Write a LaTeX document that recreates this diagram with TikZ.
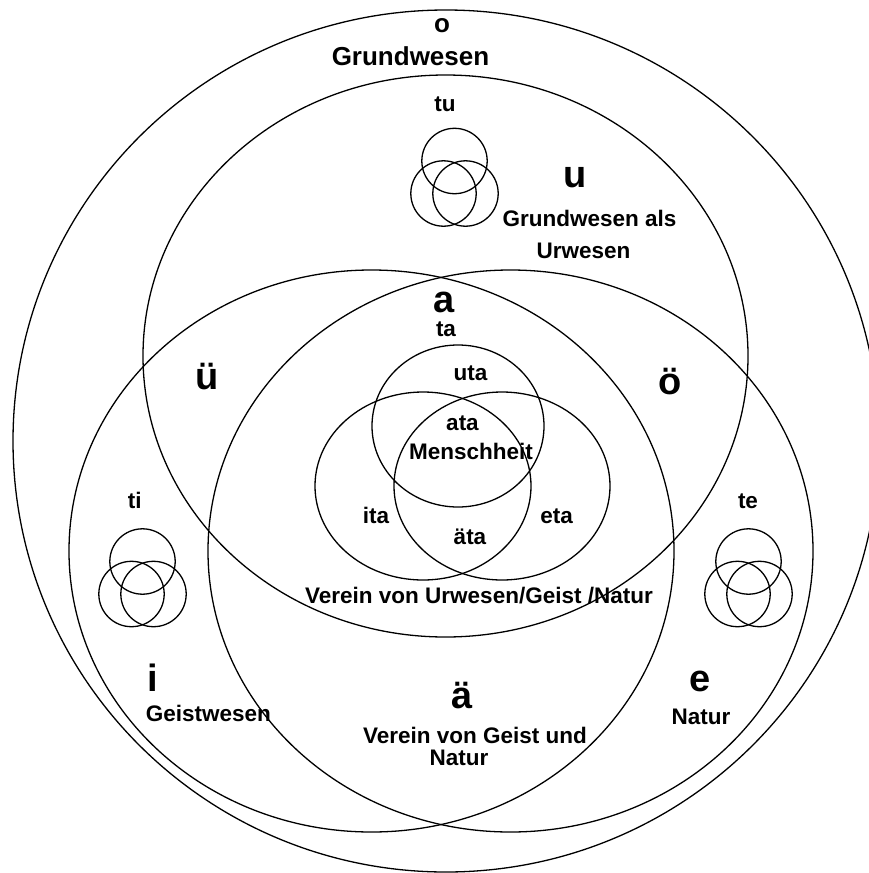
\documentclass[tikz,border=0pt]{standalone}
\usepackage{fontspec}
\setmainfont{Liberation Sans}
\newcommand\fsz[1]{\fontsize{#1}{#1}\selectfont\bfseries}
\tikzset{
  ring/.style={draw=black, line width=1.3pt},
  lbl/.style={anchor=base, inner sep=0pt, font=\fsz{22.5}},
  big/.style={anchor=base, inner sep=0pt, font=\fsz{38}},
  top/.style={anchor=base, inner sep=0pt, font=\fsz{26}},
}
\newcommand\triad[2]{%
  \draw[ring] (#1,#2) circle[radius=32.7pt];
  \draw[ring] ({#1-11},{#2+32.5}) circle[radius=32.7pt];
  \draw[ring] ({#1+11},{#2+32.5}) circle[radius=32.7pt];
}
\begin{document}
\begin{tikzpicture}[x=1pt,y=-1pt]
\useasboundingbox (0,0) rectangle (869,873);
\clip (0,0) rectangle (869,873);
% outer ellipse (o)
\draw[ring] (446,441) ellipse[x radius=433pt, y radius=431pt];
% three big ellipses u, i, e
\draw[ring] (445.5,356) ellipse[x radius=302.5pt, y radius=281pt];
\draw[ring] (371.5,551) ellipse[x radius=302.5pt, y radius=281pt];
\draw[ring] (510.5,551) ellipse[x radius=302.5pt, y radius=281pt];
% inner venn
\draw[ring] (458,426) ellipse[x radius=86pt, y radius=81pt];
\draw[ring] (423,486) ellipse[x radius=108pt, y radius=94pt];
\draw[ring] (502,486) ellipse[x radius=108pt, y radius=94pt];
% small triads
\triad{454.5}{161}
\triad{142.5}{561.5}
\triad{748.5}{561.5}
% labels
\node[top] (o) at (442,32) {o};
\node[top] (grund) at (410.5,65) {Grundwesen};
\node[lbl] (tu) at (445,111) {tu};
\node[big] (u) at (575.5,187) {u};
\node[lbl] (gals) at (589.5,226.7) {Grundwesen als};
\node[lbl] (urw) at (583.5,258) {Urwesen};
\node[big] (a) at (444.5,312) {a};
\node[lbl] (ta) at (446,336.7) {ta};
\node[big] (ue) at (207,389) {ü};
\node[big] (oe) at (670,394) {ö};
\node[lbl] (uta) at (470.5,380.7) {uta};
\node[lbl] (ata) at (462.5,430.7) {ata};
\node[lbl] (mensch) at (471,459) {Menschheit};
\node[lbl] (ita) at (376,523) {ita};
\node[lbl] (eta) at (556.7,523) {eta};
\node[lbl] (aeta) at (470,544) {äta};
\node[lbl] (verein3) at (479,603.3) {Verein von Urwesen/Geist /Natur};
\node[lbl] (ti) at (134.7,508) {ti};
\node[lbl] (te) at (748,508) {te};
\node[big] (i) at (152.5,691.7) {i};
\node[lbl] (geist) at (208.3,721.7) {Geistwesen};
\node[big] (ae) at (462.5,708) {ä};
\node[big] (e) at (700.5,691.7) {e};
\node[lbl] (natur) at (701,724) {Natur};
\node[lbl] (verein2) at (475,743.3) {Verein von Geist und};
\node[lbl] (natur2) at (459,765) {Natur};
\end{tikzpicture}
\end{document}
